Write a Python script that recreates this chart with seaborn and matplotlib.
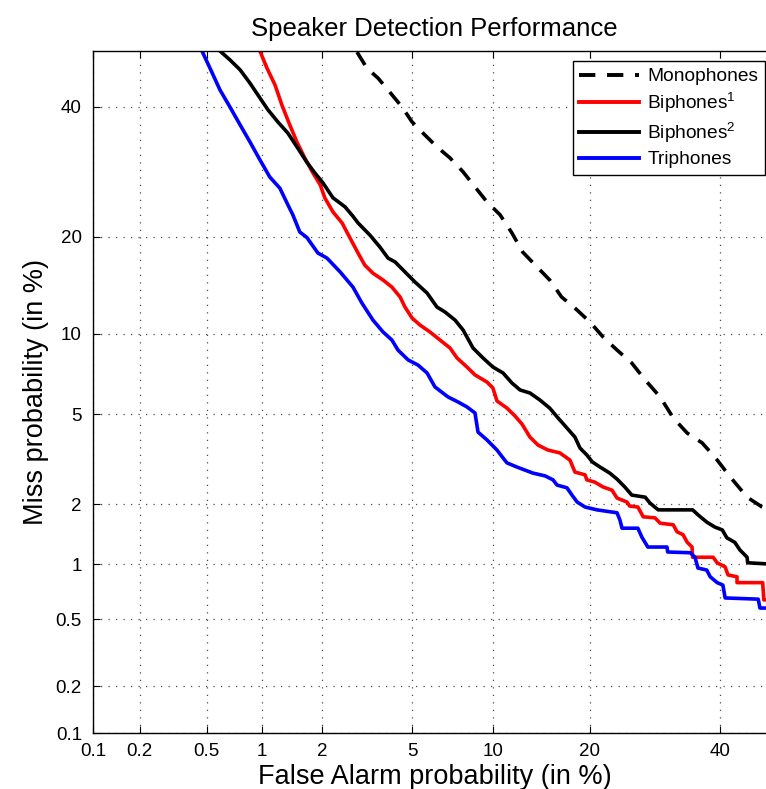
import numpy as np
import pandas as pd
import matplotlib
matplotlib.use("Agg")
import matplotlib.pyplot as plt
import seaborn as sns
from statistics import NormalDist

# ---------------- data (percent) ----------------
systems = ["Monophones", "Biphones$^1$", "Biphones$^2$", "Triphones"]

mono_fa = [2.90, 3.21, 3.59, 4.03, 4.53, 4.98, 5.51, 6.25, 7.01, 7.84, 8.66, 9.55, 10.59, 11.6,
           12.6, 13.8, 15.3, 16.6, 18.15, 20.0, 21.7, 23.6, 25.7, 27.7, 30.0, 32.1, 34.4, 36.9,
           39.1, 41.8, 44.8, 47.5, 50.0]
mono_miss = [49.8, 46.9, 45.1, 42.6, 40.0, 37.4, 35.5, 33.2, 31.4, 29.2, 26.9, 24.7, 22.9, 20.5,
             18.1, 16.6, 14.97, 13.25, 12.2, 10.97, 9.75, 8.77, 7.87, 6.80, 5.85, 4.82, 4.17, 3.79,
             3.29, 2.68, 2.16, 1.94, 1.84]

bi1_fa = [0.977, 1.064, 1.17, 1.27, 1.39, 1.51, 1.65, 1.81, 1.96, 2.06, 2.25, 2.48, 2.69, 2.93,
          3.14, 3.41, 3.77, 4.11, 4.45, 4.66, 4.98, 5.36, 5.87, 6.42, 7.01, 7.45, 8.10, 8.66,
          9.55, 10.01, 10.34, 11.18, 11.88, 12.52, 13.28, 14.07, 15.1, 16.4, 17.56, 18.15,
          19.38, 19.6, 20.6, 21.7, 22.9, 23.6, 25.0, 25.4, 26.6, 27.4, 29.2, 30.0, 32.1, 32.7,
          33.7, 34.4, 35.2, 35.3, 38.8, 39.5, 40.9, 41.4, 43.0, 43.0, 47.6, 47.8, 50.0]
bi1_miss = [50.0, 46.9, 43.9, 40.3, 36.9, 34.0, 31.4, 29.0, 27.2, 25.3, 23.3, 21.8, 19.9, 18.0,
            16.6, 15.7, 14.97, 14.24, 13.25, 12.30, 11.32, 10.72, 10.15, 9.52, 8.92, 8.21, 7.61,
            7.11, 6.68, 6.34, 5.64, 5.28, 4.91, 4.55, 4.01, 3.71, 3.53, 3.43, 3.19, 2.82, 2.74,
            2.60, 2.54, 2.41, 2.33, 2.14, 2.05, 1.96, 1.94, 1.74, 1.72, 1.62, 1.59, 1.47, 1.42,
            1.30, 1.23, 1.09, 1.09, 1.02, 0.97, 0.88, 0.86, 0.80, 0.80, 0.644, 0.644]

bi2_fa = [0.594, 0.674, 0.766, 0.866, 0.954, 1.076, 1.21, 1.36, 1.51, 1.69, 1.85, 2.02, 2.25,
          2.56, 2.78, 2.93, 3.31, 3.66, 3.96, 4.24, 4.66, 5.12, 5.72, 6.25, 6.71, 7.32, 7.84,
          8.52, 9.25, 10.01, 10.84, 11.6, 12.34, 13.28, 14.27, 15.3, 16.2, 17.21, 18.15, 18.76,
          19.6, 20.3, 21.3, 22.6, 23.6, 24.7, 25.7, 27.7, 28.4, 29.7, 35.3, 36.2, 37.7, 39.1,
          40.4, 41.2, 42.6, 43.5, 44.8, 44.9, 50.0]
bi2_miss = [50.0, 48.4, 46.6, 44.2, 42.1, 39.5, 37.4, 35.5, 33.2, 30.7, 29.0, 27.5, 25.3, 24.0,
            22.7, 21.8, 20.2, 18.7, 17.4, 16.96, 15.84, 14.76, 13.64, 12.30, 11.85, 11.14, 10.31,
            8.92, 8.21, 7.61, 7.23, 6.63, 6.23, 6.06, 5.69, 5.28, 4.82, 4.38, 4.01, 3.60, 3.36,
            3.13, 2.97, 2.79, 2.62, 2.41, 2.21, 2.16, 2.03, 1.88, 1.88, 1.78, 1.64, 1.55, 1.50,
            1.37, 1.30, 1.19, 1.09, 1.02, 1.00]

tri_fa = [0.47, 0.522, 0.594, 0.674, 0.766, 0.866, 0.977, 1.10, 1.24, 1.36, 1.44, 1.56, 1.69,
          1.91, 2.11, 2.43, 2.78, 3.05, 3.41, 3.77, 4.11, 4.36, 4.80, 5.26, 5.72, 6.14, 6.89,
          7.51, 8.10, 8.66, 8.88, 9.55, 10.34, 10.84, 11.18, 12.06, 13.57, 14.80, 15.65, 16.09,
          17.21, 17.80, 18.41, 19.38, 20.90, 23.60, 24.0, 24.3, 26.6, 27.2, 28.1, 31.1, 31.2,
          34.9, 35.7, 36.2, 37.7, 38.3, 39.5, 40.5, 40.9, 46.8, 47.1, 50.0]
tri_miss = [50.0, 46.9, 43.0, 40.0, 36.9, 34.0, 31.1, 28.4, 26.7, 24.3, 22.9, 20.6, 19.9, 18.0,
            17.4, 15.84, 14.24, 12.67, 11.14, 10.15, 9.52, 8.77, 8.08, 7.74, 7.23, 6.40, 5.85,
            5.59, 5.34, 5.05, 4.21, 3.90, 3.53, 3.26, 3.10, 2.97, 2.79, 2.71, 2.60, 2.46, 2.39,
            2.21, 2.05, 1.94, 1.88, 1.82, 1.68, 1.53, 1.53, 1.38, 1.23, 1.23, 1.16, 1.15, 1.09,
            0.957, 0.934, 0.86, 0.80, 0.776, 0.66, 0.65, 0.58, 0.58]

tick_vals = [0.1, 0.2, 0.5, 1, 2, 5, 10, 20, 40]
tick_labels = ["0.1", "0.2", "0.5", "1", "2", "5", "10", "20", "40"]

# ---------------- table ----------------
frames = []
for name, fa, ms in zip(systems, [mono_fa, bi1_fa, bi2_fa, tri_fa],
                        [mono_miss, bi1_miss, bi2_miss, tri_miss]):
    frames.append(pd.DataFrame({"fa": fa, "miss": ms, "system": name}))
df = pd.concat(frames, ignore_index=True)

# ---------------- probit scale ----------------
_nd = NormalDist()
_ppf = np.vectorize(lambda p: _nd.inv_cdf(min(max(p, 1e-9), 1 - 1e-9)), otypes=[float])
_cdf = np.vectorize(lambda z: _nd.cdf(z), otypes=[float])


def fwd(p):
    return _ppf(np.asarray(p, dtype=float) / 100.0)


def inv(z):
    return _cdf(np.asarray(z, dtype=float)) * 100.0


# ---------------- plot ----------------
plt.rcParams["font.family"] = ["Liberation Sans", "DejaVu Sans"]
plt.rcParams["mathtext.fontset"] = "custom"
plt.rcParams["mathtext.rm"] = "Liberation Sans"
plt.rcParams["mathtext.it"] = "Liberation Sans:italic"
plt.rcParams["mathtext.bf"] = "Liberation Sans:bold"

fig = plt.figure(figsize=(7.66, 7.89), dpi=100)
ax = fig.add_axes([93 / 766, 56 / 789, 683 / 766, 682 / 789])

palette = {systems[0]: "black", systems[1]: "#ff0000", systems[2]: "black", systems[3]: "#0000ff"}
dashes = {systems[0]: (4.2, 3.0), systems[1]: "", systems[2]: "", systems[3]: ""}

sns.lineplot(data=df, x="fa", y="miss", hue="system", style="system",
             hue_order=systems, style_order=systems, palette=palette, dashes=dashes,
             sort=False, estimator=None, units="system", linewidth=2.6, ax=ax, legend=True)

ax.set_xscale("function", functions=(fwd, inv))
ax.set_yscale("function", functions=(fwd, inv))
ax.set_xlim(0.1, 50)
ax.set_ylim(0.1, 50)
ax.set_xticks(tick_vals)
ax.set_xticklabels(tick_labels)
ax.set_yticks(tick_vals)
ax.set_yticklabels(tick_labels)
ax.minorticks_off()

ax.grid(True, linestyle=(0, (1, 5)), linewidth=0.9, color="0.3")
ax.tick_params(axis="both", which="major", direction="in", length=5, width=0.8,
               top=True, right=True, labelsize=13.5, colors="black")
ax.tick_params(axis="x", pad=7)
ax.tick_params(axis="y", pad=8)
for sp in ax.spines.values():
    sp.set_linewidth(1.0)
    sp.set_color("black")

ax.set_title("Speaker Detection Performance", fontsize=18.5, pad=11)
ax.set_xlabel("False Alarm probability (in %)", fontsize=19.5, labelpad=3)
ax.set_ylabel("Miss probability (in %)", fontsize=19.5, labelpad=5)

handles, labels = ax.get_legend_handles_labels()
for h in handles:
    h.set_linewidth(2.8)
leg = ax.legend(handles, labels, loc="upper right", bbox_to_anchor=(0.984, 0.985),
                borderaxespad=0, fontsize=13.8, frameon=True, fancybox=False,
                edgecolor="black", framealpha=1, handlelength=3.1, handletextpad=0.45,
                labelspacing=0.3, borderpad=0.35)
leg.get_frame().set_linewidth(1.0)

fig.savefig("out.png", dpi=100)
